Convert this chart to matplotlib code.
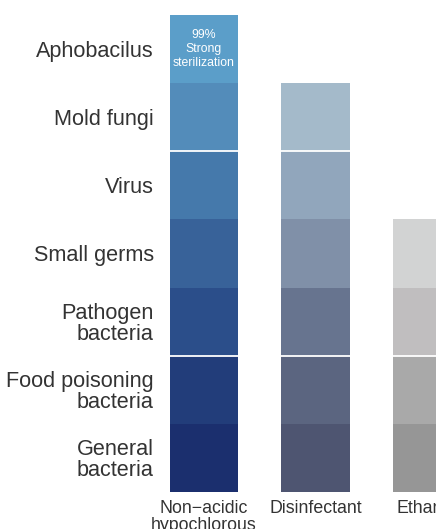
import matplotlib.pyplot as plt

plt.rcParams['font.family'] = ['Liberation Sans', 'DejaVu Sans']

# microbes, from bottom to top
microbes = ["General\nbacteria", "Food poisoning\nbacteria", "Pathogen\nbacteria",
            "Small germs", "Virus", "Mold fungi", "Aphobacilus"]
products = ["Non\u2212acidic\nhypochlorous\nacid water", "Disinfectant", "Ethanol"]
# how many microbe levels each product covers
levels_covered = [7, 6, 4]

blue_shades = ["#1b2f6e", "#223d7a", "#2b4e8a", "#386299", "#4579ab", "#538cba", "#5b9ec9"]
slate_shades = ["#4e5571", "#5b6580", "#67748f", "#8090a8", "#91a6bc", "#a4baca"]
grey_shades = ["#969696", "#a9a9a9", "#c0bebf", "#d2d3d3"]
product_colors = [blue_shades, slate_shades, grey_shades]

divider_levels = [2, 5]
top_note = "99%\nStrong\nsterilization"

fig = plt.figure(figsize=(4.36, 5.29), dpi=100)
# axes runs past the right/bottom edge, like the cropped original
ax = fig.add_axes([159.4 / 436, 37 / 529, 334.5 / 436, 477 / 529])

bar_w = 0.61
for i, n in enumerate(levels_covered):
    for k in range(n):
        ax.bar(i, 1, bottom=k, width=bar_w, color=product_colors[i][k], linewidth=0)

for lv in divider_levels:
    ax.axhline(lv, color="white", linewidth=1.3, zorder=3)

ax.text(0, levels_covered[0] - 0.5, top_note, color="white", fontsize=8.8,
        ha="center", va="center", linespacing=1.2)

ax.set_xlim(-0.4, 2.6)
ax.set_ylim(0, 7)
ax.set_yticks([k + 0.5 for k in range(len(microbes))])
ax.set_yticklabels(microbes, fontsize=15.6, color="#333333", linespacing=1.0)
ax.set_xticks(range(len(products)))
ax.set_xticklabels(products, fontsize=12.8, color="#333333", va="top", linespacing=1.0)
ax.tick_params(axis="y", length=0, pad=4)
ax.tick_params(axis="x", length=0, pad=6)
for s in ax.spines.values():
    s.set_visible(False)

fig.savefig("out.png", dpi=100)
